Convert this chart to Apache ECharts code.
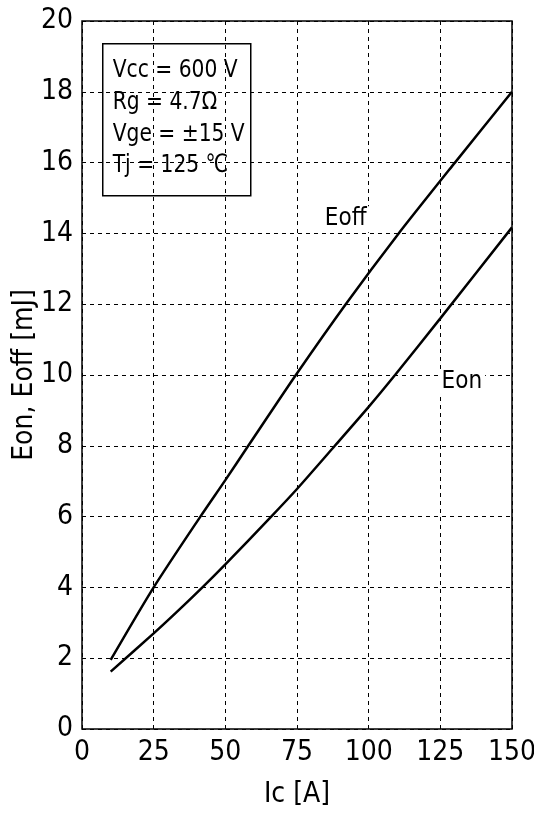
<!DOCTYPE html>
<html><head><meta charset="utf-8">
<script src="https://cdn.jsdelivr.net/npm/echarts@6/dist/echarts.min.js"></script>
<style>html,body{margin:0;padding:0;background:#fff}#c{width:534px;height:814px}</style>
</head><body><div id="c"></div>
<script>
// Data
const icOff = [10, 25, 41.3, 50, 58, 74.6, 92, 110, 130.1, 150];
const eoff  = [1.95, 4.0, 6.0, 7.03, 8.0, 10.0, 12.0, 13.95, 16.0, 18.0];
const icOn  = [10, 25, 33, 42, 50, 66, 75, 88.2, 100, 109.2, 125, 150];
const eon   = [1.62, 2.70, 3.3, 4.0, 4.65, 6.0, 6.78, 8.0, 9.1, 10.0, 11.6, 14.17];
const xTicks = [0, 25, 50, 75, 100, 125, 150];
const yTicks = [0, 2, 4, 6, 8, 10, 12, 14, 16, 18, 20];
const conditions = ['Vcc = 600 V', 'Rg = 4.7Ω', 'Vge = ±15 V', 'Tj = 125 ℃'];

const FONT = '"Liberation Sans Narrow", "Arial Narrow", "DejaVu Sans Condensed", "Liberation Sans", Arial, sans-serif';
const pair = (xs, ys) => xs.map((x, i) => [x, ys[i]]);

const chart = echarts.init(document.getElementById('c'));
chart.setOption({
  animation: false,
  backgroundColor: '#fff',
  grid: { left: 82, right: 22, top: 21, bottom: 85, containLabel: false, outerBoundsMode: 'none',
          show: true, borderColor: '#000', borderWidth: 1.5, backgroundColor: 'transparent' },
  xAxis: {
    type: 'value', min: xTicks[0], max: xTicks[xTicks.length - 1], interval: 25,
    name: 'Ic [A]', nameLocation: 'middle', nameGap: 52, nameMoveOverlap: false,
    nameTextStyle: { fontFamily: FONT, fontSize: 28, color: '#000' },
    axisLine: { show: false }, axisTick: { show: false },
    axisLabel: { fontFamily: FONT, fontSize: 28, color: '#000', margin: 10 },
    splitLine: { show: true, lineStyle: { type: [4, 4], color: '#000', width: 1 } }
  },
  yAxis: {
    type: 'value', min: yTicks[0], max: yTicks[yTicks.length - 1], interval: 2,
    name: 'Eon, Eoff [mJ]', nameLocation: 'middle', nameGap: 43, nameMoveOverlap: false,
    nameTextStyle: { fontFamily: FONT, fontSize: 28, color: '#000' },
    axisLine: { show: false }, axisTick: { show: false },
    axisLabel: { fontFamily: FONT, fontSize: 28, color: '#000', margin: 9 },
    splitLine: { show: true, lineStyle: { type: [4, 4], color: '#000', width: 1 } }
  },
  series: [
    {
      name: 'Eoff', type: 'line', data: pair(icOff, eoff), showSymbol: false, symbol: 'none', smooth: 0.25,
      lineStyle: { color: '#000', width: 2.5 }, z: 5,
      markPoint: {
        symbol: 'rect', symbolSize: 0,
        label: { show: true, formatter: 'Eoff', fontFamily: FONT, fontSize: 24, color: '#000', backgroundColor: '#fff', padding: [1, 3] },
        data: [{ coord: [92, 14.4] }]
      }
    },
    {
      name: 'Eon', type: 'line', data: pair(icOn, eon), showSymbol: false, symbol: 'none', smooth: 0.25,
      lineStyle: { color: '#000', width: 2.5 }, z: 5,
      markPoint: {
        symbol: 'rect', symbolSize: 0,
        label: { show: true, formatter: 'Eon', fontFamily: FONT, fontSize: 24, color: '#000', backgroundColor: '#fff', padding: [1, 3] },
        data: [{ coord: [132.5, 9.8] }]
      }
    }
  ],
  graphic: [
    {
      type: 'group', left: 102, top: 43, z: 10,
      children: [
        { type: 'rect', shape: { x: 0, y: 0, width: 148, height: 152 }, style: { fill: '#fff', stroke: '#000', lineWidth: 1.5 } }
      ].concat(conditions.map((t, i) => ({
        type: 'text', x: 10, y: 27 + i * 31.7, scaleX: 0.9,
        style: { text: t, fontFamily: FONT, fontSize: 25, fill: '#000', verticalAlign: 'middle' }
      })))
    }
  ]
});
</script>
</body></html>
